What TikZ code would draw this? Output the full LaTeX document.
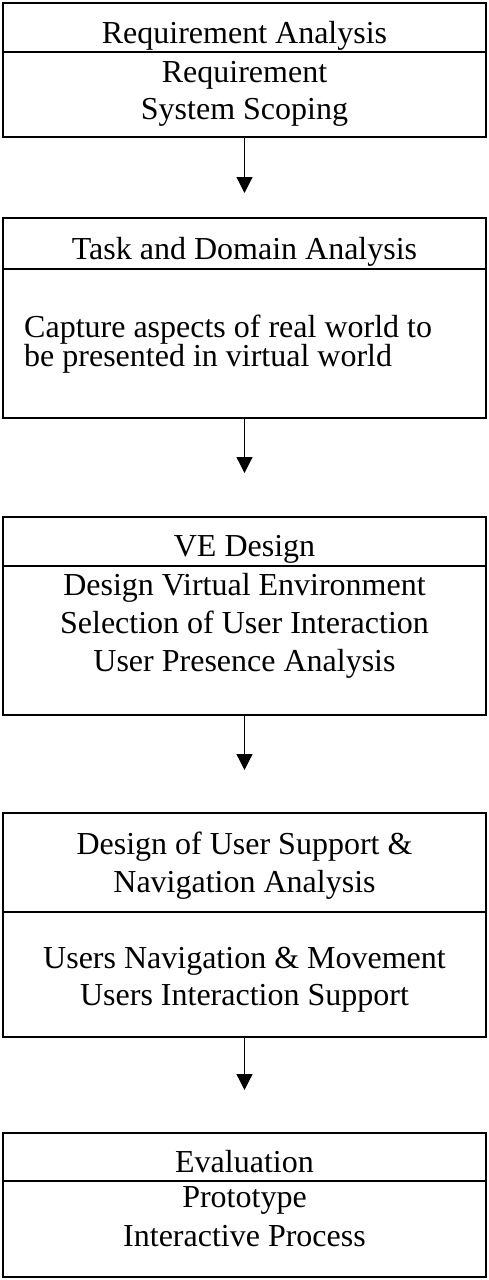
\documentclass[tikz,border=0pt]{standalone}
\usepackage{fontspec}
\setmainfont{Liberation Serif}
\usetikzlibrary{arrows.meta}
\begin{document}
\begin{tikzpicture}[x=1pt,y=-1pt,
  box/.style={draw,line width=1.8pt,inner sep=0pt,outer sep=0pt,anchor=north west,minimum width=483pt},
  divline/.style={line width=1.5pt},
  txt/.style={inner sep=0pt,anchor=base,font=\fontsize{32}{37}\selectfont},
  txtl/.style={txt,anchor=base west},
  arr/.style={line width=1.2pt,-{Triangle[length=16pt,width=16pt]}}]
\useasboundingbox (0,0) rectangle (488,1280);
% boxes
\node[box,minimum height=134pt] (b1) at (3,3) {};
\node[box,minimum height=200pt] (b2) at (3,218) {};
\node[box,minimum height=198pt] (b3) at (3,517) {};
\node[box,minimum height=224pt] (b4) at (3,813) {};
\node[box,minimum height=144pt] (b5) at (3,1133) {};
% dividers
\draw[divline] (b1.west |- 0,52) -- (b1.east |- 0,52);
\draw[divline] (b2.west |- 0,269) -- (b2.east |- 0,269);
\draw[divline] (b3.west |- 0,566) -- (b3.east |- 0,566);
\draw[divline] (b4.west |- 0,912) -- (b4.east |- 0,912);
\draw[divline] (b5.west |- 0,1181) -- (b5.east |- 0,1181);
% texts
\node[txt] (h1) at (244.5,43) {Requirement Analysis};
\node[txt] (l11) at (244.5,82) {Requirement};
\node[txt] (l12) at (244.5,119) {System Scoping};
\node[txt] (h2) at (244.5,259) {Task and Domain Analysis};
\node[txtl] (l21) at (24,337) {Capture aspects of real world to};
\node[txtl] (l22) at (24,366) {be presented in virtual world};
\node[txt] (h3) at (244.5,556) {VE Design};
\node[txt] (l31) at (244.5,595) {Design Virtual Environment};
\node[txt] (l32) at (244.5,633) {Selection of User Interaction};
\node[txt] (l33) at (244.5,671) {User Presence Analysis};
\node[txt] (h41) at (244.5,854) {Design of User Support \&};
\node[txt] (h42) at (244.5,892) {Navigation Analysis};
\node[txt] (l41) at (244.5,968) {Users Navigation \& Movement};
\node[txt] (l42) at (244.5,1005) {Users Interaction Support};
\node[txt] (h5) at (244.5,1172) {Evaluation};
\node[txt] (l51) at (244.5,1207) {Prototype};
\node[txt] (l52) at (244.5,1246) {Interactive Process};
% arrows
\coordinate (e1) at (244.5,193);
\coordinate (e2) at (244.5,473);
\coordinate (e3) at (244.5,770);
\coordinate (e4) at (244.5,1090);
\draw[arr] (b1.south) -- (e1);
\draw[arr] (b2.south) -- (e2);
\draw[arr] (b3.south) -- (e3);
\draw[arr] (b4.south) -- (e4);
\end{tikzpicture}
\end{document}
